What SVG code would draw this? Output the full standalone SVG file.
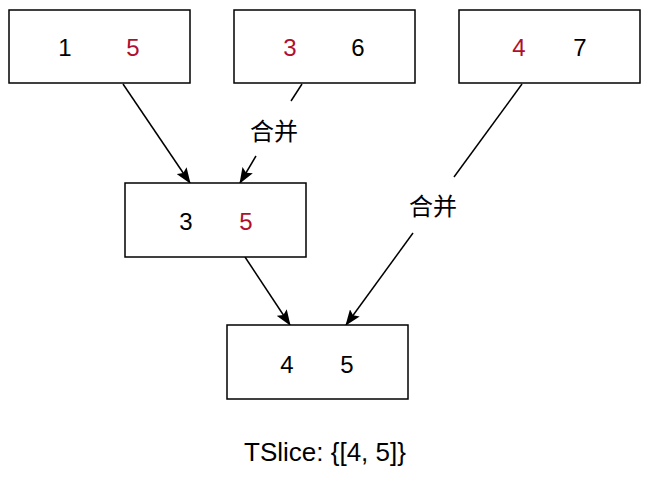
<svg xmlns="http://www.w3.org/2000/svg" width="650" height="484" viewBox="0 0 650 484">
<style>
.box{fill:#fff;stroke:#000;stroke-width:1.5}
.t{font-family:"Liberation Sans",Arial,sans-serif;font-size:24px;text-anchor:middle;fill:#000}
.r{fill:#b0102d}
.lbl{font-family:"Liberation Sans","Noto Sans CJK SC",sans-serif;font-size:24px;text-anchor:middle;fill:#000}
.ln{fill:none;stroke:#000;stroke-width:1.5}
</style>
<defs>
<marker id="ah" viewBox="0 0 16 12" refX="15" refY="6" markerWidth="16" markerHeight="12" markerUnits="userSpaceOnUse" orient="auto">
<path d="M0,0 L16,6 L0,12 L3,6 z" fill="#000"/>
</marker>
</defs>
<g id="connectors">
<path class="ln" d="M123,84 L190,183" marker-end="url(#ah)"/>
<path class="ln" d="M302,84 L291,101"/>
<path class="ln" d="M256,156 L240,183" marker-end="url(#ah)"/>
<text class="lbl" x="274" y="140">合并</text>
<path class="ln" d="M522,84 L454,177"/>
<path class="ln" d="M413,233 L346,325" marker-end="url(#ah)"/>
<text class="lbl" x="433" y="215">合并</text>
<path class="ln" d="M245,257 L290,325" marker-end="url(#ah)"/>
</g>
<g id="n1">
<rect class="box" x="9" y="10" width="181" height="73"/>
<text class="t" x="65" y="56">1</text>
<text class="t r" x="133" y="56">5</text>
</g>
<g id="n2">
<rect class="box" x="234" y="10" width="181" height="73"/>
<text class="t r" x="290" y="56">3</text>
<text class="t" x="358" y="56">6</text>
</g>
<g id="n3">
<rect class="box" x="459" y="10" width="181" height="73"/>
<text class="t r" x="519" y="56">4</text>
<text class="t" x="580" y="56">7</text>
</g>
<g id="n4">
<rect class="box" x="125" y="183" width="181" height="74"/>
<text class="t" x="186" y="230">3</text>
<text class="t r" x="246" y="230">5</text>
</g>
<g id="n5">
<rect class="box" x="227" y="325" width="181" height="74"/>
<text class="t" x="287" y="373">4</text>
<text class="t" x="347" y="373">5</text>
</g>
<text class="t" x="325" y="461" style="font-size:26px">TSlice: {[4, 5]}</text>
</svg>
